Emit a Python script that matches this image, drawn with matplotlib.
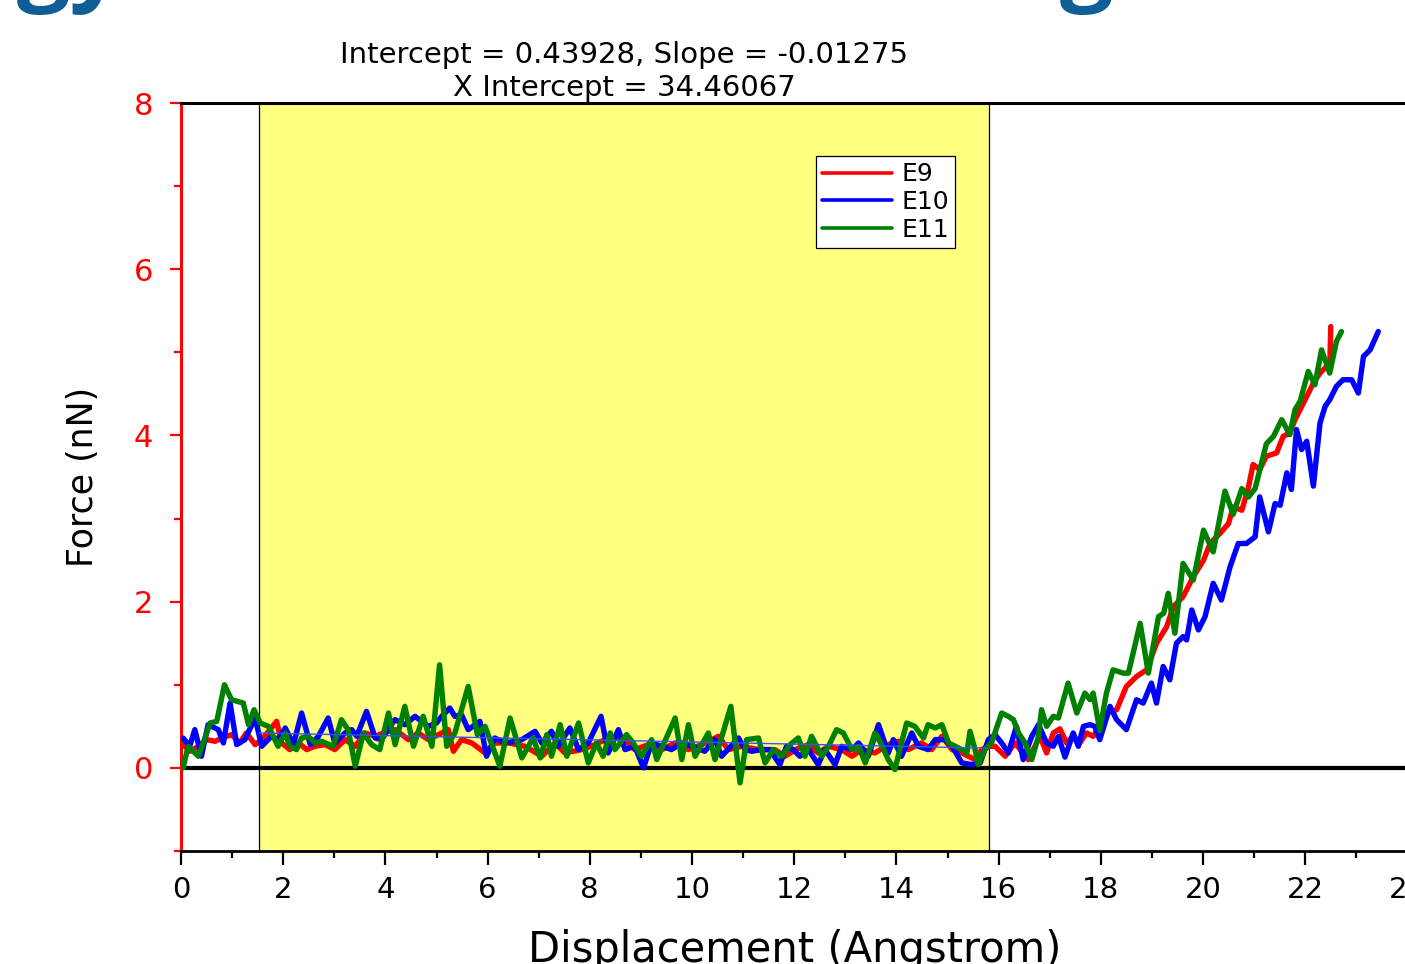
import matplotlib
matplotlib.use("Agg")
import matplotlib.pyplot as plt
from matplotlib.ticker import FixedLocator, MultipleLocator

# ---------------- data ----------------
e9_x = [0.0, 0.18, 0.34, 0.50, 0.67, 0.80, 0.99, 1.15, 1.28, 1.45, 1.58, 1.77, 1.87, 1.97, 2.13, 2.30,
        2.46, 2.62, 2.82, 3.01, 3.21, 3.41, 3.60, 3.80, 3.96, 4.19, 4.45, 4.64, 4.84, 5.10, 5.23, 5.33,
        5.49, 5.69, 5.95, 6.14, 6.41, 6.73, 7.06, 7.32, 7.51, 7.84, 8.10, 8.43, 8.69, 8.88, 9.15, 9.41,
        9.67, 9.93, 10.19, 10.52, 10.71, 10.97, 11.30, 11.49, 11.62, 11.82, 12.02, 12.28, 12.47, 12.67,
        12.93, 13.13, 13.32, 13.58, 13.84, 14.04, 14.23, 14.49, 14.69, 14.89, 15.09, 15.28, 15.54, 15.67,
        15.80, 15.93, 16.13, 16.32, 16.58, 16.81, 16.94, 17.07, 17.20, 17.33, 17.46, 17.59, 17.72, 17.85,
        17.98, 18.11, 18.31, 18.50, 18.70, 18.90, 19.09, 19.29, 19.42, 19.61, 19.81, 20.01, 20.14, 20.33,
        20.50, 20.59, 20.76, 20.89, 20.98, 21.11, 21.24, 21.44, 21.57, 21.70, 21.80, 21.90, 22.03, 22.16,
        22.29, 22.42, 22.48, 22.50]
e9_y = [0.30, 0.20, 0.26, 0.34, 0.32, 0.36, 0.40, 0.30, 0.42, 0.28, 0.34, 0.48, 0.56, 0.30, 0.22, 0.30,
        0.22, 0.26, 0.28, 0.22, 0.34, 0.26, 0.42, 0.38, 0.42, 0.46, 0.34, 0.42, 0.34, 0.42, 0.46, 0.20,
        0.34, 0.30, 0.18, 0.30, 0.30, 0.26, 0.14, 0.30, 0.18, 0.22, 0.28, 0.38, 0.34, 0.22, 0.28, 0.22,
        0.30, 0.22, 0.28, 0.38, 0.22, 0.26, 0.22, 0.22, 0.22, 0.14, 0.22, 0.28, 0.18, 0.26,
        0.22, 0.14, 0.22, 0.18, 0.28, 0.32, 0.22, 0.30, 0.22, 0.38, 0.22, 0.18, 0.10, 0.22,
        0.26, 0.26, 0.14, 0.30, 0.10, 0.38, 0.18, 0.42, 0.47, 0.30, 0.38, 0.30, 0.42, 0.38,
        0.50, 0.66, 0.70, 0.98, 1.10, 1.18, 1.50, 1.70, 1.94, 2.06, 2.30, 2.50, 2.70, 2.82,
        2.94, 3.14, 3.10, 3.38, 3.65, 3.59, 3.75, 3.79, 3.99, 4.03, 4.19, 4.31, 4.47, 4.63,
        4.75, 4.83, 4.80, 5.31]

e10_x = [0.04, 0.17, 0.27, 0.40, 0.53, 0.73, 0.83, 0.96, 1.09, 1.25, 1.45, 1.58, 1.77, 1.90, 2.04, 2.20,
         2.36, 2.53, 2.69, 2.88, 3.01, 3.21, 3.34, 3.44, 3.63, 3.80, 3.93, 4.06, 4.19, 4.38, 4.58, 4.71,
         4.84, 5.00, 5.10, 5.26, 5.36, 5.49, 5.62, 5.85, 5.98, 6.14, 6.34, 6.54, 6.67, 6.93, 7.06, 7.25,
         7.38, 7.61, 7.78, 7.97, 8.22, 8.36, 8.56, 8.69, 8.88, 9.05, 9.21, 9.41, 9.60, 9.80, 10.00, 10.25,
         10.45, 10.58, 10.91, 11.04, 11.17, 11.36, 11.52, 11.72, 11.85, 11.98, 12.11, 12.28, 12.47, 12.60,
         12.80, 12.93, 13.13, 13.26, 13.45, 13.65, 13.84, 13.94, 14.10, 14.30, 14.43, 14.62, 14.76, 14.95,
         15.09, 15.28, 15.47, 15.64, 15.80, 15.93, 16.06, 16.19, 16.35, 16.48, 16.65, 16.78, 16.94, 17.07,
         17.17, 17.30, 17.46, 17.56, 17.66, 17.79, 17.88, 17.98, 18.18, 18.31, 18.50, 18.70, 18.83, 18.99,
         19.09, 19.22, 19.35, 19.48, 19.61, 19.68, 19.78, 19.91, 20.04, 20.20, 20.36, 20.53, 20.69, 20.85,
         21.02, 21.11, 21.28, 21.41, 21.51, 21.64, 21.73, 21.83, 21.93, 22.03, 22.16, 22.29, 22.39, 22.48,
         22.61, 22.74, 22.91, 23.04, 23.14, 23.27, 23.43]
e10_y = [0.36, 0.26, 0.46, 0.14, 0.52, 0.46, 0.30, 0.78, 0.28, 0.34, 0.60, 0.26, 0.38, 0.34, 0.48, 0.28,
         0.66, 0.28, 0.38, 0.60, 0.30, 0.42, 0.46, 0.38, 0.68, 0.36, 0.34, 0.48, 0.58, 0.52, 0.62, 0.56,
         0.50, 0.54, 0.62, 0.72, 0.62, 0.64, 0.46, 0.56, 0.14, 0.36, 0.30, 0.32, 0.34, 0.44, 0.30, 0.44,
         0.26, 0.48, 0.22, 0.30, 0.62, 0.18, 0.46, 0.22, 0.26, 0.00, 0.30, 0.26, 0.22, 0.30, 0.26, 0.20,
         0.34, 0.14, 0.36, 0.22, 0.20, 0.22, 0.22, 0.04, 0.26, 0.22, 0.14, 0.22, 0.04, 0.22,
         0.04, 0.26, 0.22, 0.30, 0.14, 0.52, 0.18, 0.34, 0.14, 0.42, 0.26, 0.22, 0.34, 0.34,
         0.26, 0.06, 0.04, 0.06, 0.34, 0.40, 0.30, 0.18, 0.50, 0.10, 0.38, 0.52, 0.30, 0.26,
         0.38, 0.13, 0.42, 0.26, 0.50, 0.52, 0.50, 0.34, 0.74, 0.58, 0.46, 0.82, 0.78, 1.02,
         0.78, 1.22, 1.06, 1.50, 1.58, 1.54, 1.90, 1.66, 1.82, 2.22, 2.02, 2.42, 2.70, 2.70,
         2.78, 3.26, 2.84, 3.18, 3.16, 3.55, 3.35, 4.07, 3.83, 3.93, 3.39, 4.15, 4.35, 4.43,
         4.59, 4.67, 4.67, 4.51, 4.95, 5.03, 5.25]

e11_x = [0.04, 0.14, 0.34, 0.47, 0.57, 0.70, 0.85, 0.99, 1.22, 1.32, 1.43, 1.55, 1.71, 1.90, 2.04, 2.13,
         2.26, 2.36, 2.49, 2.62, 2.75, 2.98, 3.14, 3.27, 3.41, 3.57, 3.73, 3.89, 4.06, 4.19, 4.38, 4.55,
         4.74, 4.91, 5.06, 5.20, 5.36, 5.62, 5.80, 5.95, 6.24, 6.44, 6.67, 6.89, 7.03, 7.16, 7.25, 7.42,
         7.55, 7.78, 7.97, 8.13, 8.26, 8.40, 8.49, 8.72, 8.85, 9.01, 9.21, 9.31, 9.67, 9.80, 9.93, 10.06,
         10.32, 10.45, 10.76, 10.94, 11.07, 11.30, 11.43, 11.59, 11.76, 11.92, 12.08, 12.21, 12.34, 12.44,
         12.54, 12.67, 12.83, 12.96, 13.13, 13.26, 13.39, 13.58, 13.71, 13.84, 13.97, 14.10, 14.20, 14.36,
         14.53, 14.62, 14.76, 14.89, 15.02, 15.15, 15.28, 15.38, 15.44, 15.54, 15.60, 15.73, 15.86, 16.06,
         16.19, 16.29, 16.39, 16.52, 16.65, 16.78, 16.84, 16.94, 17.07, 17.17, 17.36, 17.53, 17.69, 17.79,
         17.85, 17.98, 18.11, 18.24, 18.44, 18.54, 18.77, 18.93, 19.13, 19.23, 19.32, 19.45, 19.61, 19.81,
         20.01, 20.20, 20.43, 20.59, 20.76, 20.89, 21.02, 21.24, 21.38, 21.54, 21.70, 21.80, 21.90, 22.06,
         22.19, 22.32, 22.48, 22.61, 22.71]
e11_y = [0.00, 0.26, 0.14, 0.36, 0.54, 0.56, 1.00, 0.82, 0.78, 0.52, 0.70, 0.54, 0.50, 0.26, 0.42, 0.26,
         0.22, 0.36, 0.38, 0.30, 0.32, 0.26, 0.58, 0.46, 0.02, 0.42, 0.28, 0.22, 0.66, 0.28, 0.74, 0.26,
         0.62, 0.26, 1.24, 0.26, 0.42, 0.98, 0.40, 0.50, 0.02, 0.60, 0.12, 0.36, 0.12, 0.40, 0.14, 0.52,
         0.14, 0.54, 0.06, 0.30, 0.14, 0.42, 0.22, 0.40, 0.30, 0.14, 0.34, 0.10, 0.60, 0.10, 0.52, 0.14,
         0.42, 0.10, 0.74, -0.18, 0.34, 0.36, 0.06, 0.22, 0.14, 0.28, 0.36, 0.14, 0.38, 0.26,
         0.14, 0.26, 0.46, 0.42, 0.22, 0.26, 0.06, 0.42, 0.28, 0.10, -0.02, 0.30, 0.54, 0.50,
         0.36, 0.52, 0.48, 0.52, 0.30, 0.26, 0.22, 0.18, 0.44, 0.22, 0.04, 0.22, 0.30, 0.66,
         0.62, 0.58, 0.42, 0.30, 0.10, 0.38, 0.70, 0.50, 0.62, 0.60, 1.02, 0.66, 0.90, 0.82,
         0.90, 0.45, 0.90, 1.18, 1.14, 1.14, 1.74, 1.14, 1.82, 1.86, 2.10, 1.62, 2.46, 2.26,
         2.86, 2.60, 3.33, 3.05, 3.36, 3.26, 3.36, 3.90, 3.99, 4.19, 4.01, 4.31, 4.41, 4.77,
         4.61, 5.03, 4.75, 5.13, 5.25]

series_labels = ["E9", "E10", "E11"]
series_colors = ["#FF0000", "#0000FF", "#008000"]

fit_intercept = 0.43928
fit_slope = -0.01275
fit_x_intercept = 34.46067
region = [1.53, 15.81]

x_ticks = [0, 2, 4, 6, 8, 10, 12, 14, 16, 18, 20, 22, 24]
y_ticks = [0, 2, 4, 6, 8]

# ---------------- figure ----------------
fig = plt.figure(figsize=(14.05, 9.64), dpi=100)
ax = fig.add_axes([181 / 1405, 113 / 964, 1226.4 / 1405, 748 / 964])

ax.axvspan(region[0], region[1], facecolor="#FFFF80", edgecolor="black", linewidth=0.9, zorder=0)
ax.axhline(0, color="black", linewidth=3.0, zorder=1)

lw = 3.9
style = dict(lw=lw, solid_joinstyle="round", solid_capstyle="round")
ax.plot(e9_x, e9_y, color=series_colors[0], label=series_labels[0], zorder=3, **style)
ax.plot(e10_x, e10_y, color=series_colors[1], label=series_labels[1], zorder=4, **style)
ax.plot(e11_x, e11_y, color=series_colors[2], label=series_labels[2], zorder=5, **style)

fx = region
fy = [fit_intercept + fit_slope * v for v in fx]
ax.plot(fx, fy, color="#3355EE", lw=1.0, zorder=6)

ax.set_xlim(0, 24)
ax.set_ylim(-1, 8)

ax.xaxis.set_major_locator(FixedLocator(x_ticks))
ax.xaxis.set_minor_locator(MultipleLocator(1))
ax.yaxis.set_major_locator(FixedLocator(y_ticks))
ax.yaxis.set_minor_locator(FixedLocator([-1, 1, 3, 5, 7]))

ax.tick_params(axis="x", which="major", direction="out", length=10, width=1.6, labelsize=21,
               pad=8, colors="black")
ax.tick_params(axis="x", which="minor", direction="out", length=5, width=1.6, colors="black")
ax.tick_params(axis="y", which="major", direction="out", length=8, width=1.6, labelsize=22,
               pad=12, colors="red")
ax.tick_params(axis="y", which="minor", direction="out", length=5, width=1.6, colors="red")

ax.spines["left"].set_color("red")
ax.spines["left"].set_linewidth(2.2)
ax.spines["top"].set_linewidth(2.2)
ax.spines["bottom"].set_linewidth(2.0)
ax.spines["right"].set_visible(False)

ax.set_xlabel("Displacement (Angstrom)", fontsize=30)
ax.xaxis.set_label_coords(0.5, -0.104)
ax.set_ylabel("Force (nN)", fontsize=25)
ax.yaxis.set_label_coords(-0.066, 0.5)

leg = ax.legend(loc="upper left", bbox_to_anchor=((816 - 181) / 1226.4, (851 - 156) / 748),
                fontsize=18, frameon=True, fancybox=False, framealpha=1, facecolor="white",
                edgecolor="black", handlelength=2.8, handletextpad=0.35, labelspacing=0.15,
                borderpad=0.25, borderaxespad=0)
leg.get_frame().set_linewidth(0.9)
for line in leg.get_lines():
    line.set_linewidth(2.6)

fig.text(624 / 1405, 1 - 55 / 964, f"Intercept = {fit_intercept:.5f}, Slope = {fit_slope:.5f}",
         ha="center", va="center", fontsize=21)
fig.text(624 / 1405, 1 - 88 / 964, f"X Intercept = {fit_x_intercept:.5f}",
         ha="center", va="center", fontsize=21)

# fragments of slide title cut by the screenshot
fig.text(124 / 1405, 1 + 7 / 964, "gy", ha="right", va="baseline", fontsize=68,
         fontweight="bold", family="Open Sans", color="#0F5E96")
fig.text(1060 / 1405, 1 + 7 / 964, "g", ha="left", va="baseline", fontsize=68,
         fontweight="bold", family="Open Sans", color="#0F5E96")

fig.savefig("out.png", dpi=100)
